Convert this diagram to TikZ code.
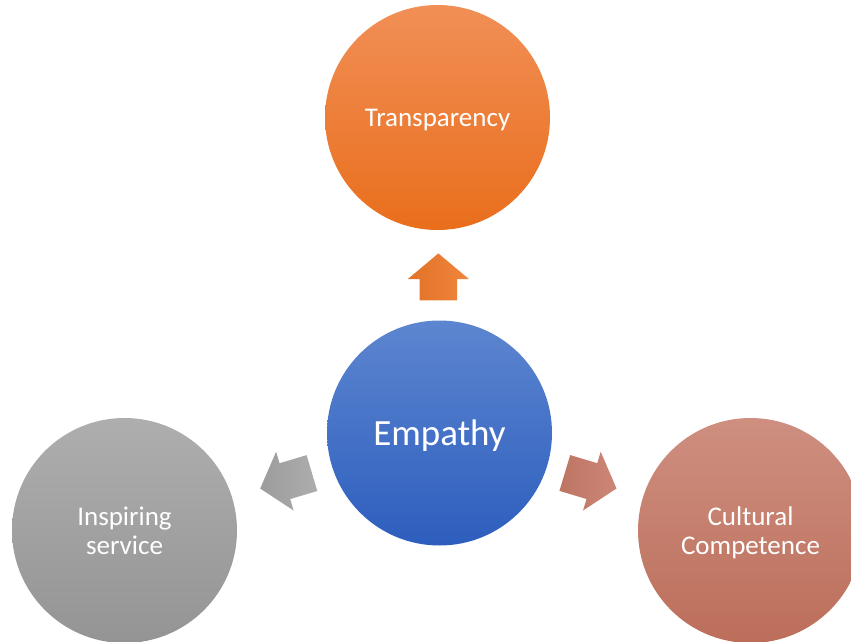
\documentclass[tikz,border=0pt]{standalone}
\usepackage{fontspec}
\setmainfont{Carlito}
\usetikzlibrary{shapes.arrows,calc}

\definecolor{orgTop}{RGB}{241,143,86}
\definecolor{orgBot}{RGB}{233,110,28}
\definecolor{bluTop}{RGB}{93,134,208}
\definecolor{bluBot}{RGB}{45,94,190}
\definecolor{gryTop}{RGB}{174,174,174}
\definecolor{gryBot}{RGB}{148,148,148}
\definecolor{redTop}{RGB}{206,143,128}
\definecolor{redBot}{RGB}{188,110,90}
\definecolor{arrOrg}{RGB}{239,122,42}
\definecolor{arrGry}{RGB}{166,166,166}
\definecolor{arrRed}{RGB}{201,124,106}

\tikzset{
  bubble/.style={circle, draw=none, minimum size=225pt, inner sep=0pt, text depth=0pt,
    text=white, align=center, font=\fontsize{27}{29}\selectfont},
  blockarrow/.style={single arrow, draw=none, inner xsep=0pt, inner ysep=18.5pt,
    single arrow head extend=12pt, single arrow tip angle=100, anchor=tip}
}

\begin{document}
\begin{tikzpicture}[x=1pt, y=1pt]
        \useasboundingbox (0,0) rectangle (851,641);
        \clip (0,0) rectangle (851,641);
        % four circles, centre one feeds the others
        \node[bubble, top color=bluTop, bottom color=bluBot, font=\fontsize{37}{40}\selectfont] (empathy) at (439.5,208) {Empathy};
        \node[bubble, top color=orgTop, bottom color=orgBot] (transp) at (437.5,523.5) {Transparency};
        \node[bubble, top color=gryTop, bottom color=gryBot] (inspire) at (124.5,110.5) {Inspiring\\service};
        \node[bubble, top color=redTop, bottom color=redBot] (cultural) at (750.5,110.5) {Cultural\\Competence};
        % block arrows, tip a bit past half way to the target
        \foreach \tgt/\ang/\len/\col in {transp/90/47/arrOrg, inspire/196.6/54/arrGry, cultural/-16.7/54/arrRed}
          \node[blockarrow, rotate=\ang, minimum height=\len pt, left color=\col!94!black, right color=\col!92!white] (arr-\tgt) at ($(empathy)!0.57!(\tgt)$) {};
      \end{tikzpicture}
\end{document}
